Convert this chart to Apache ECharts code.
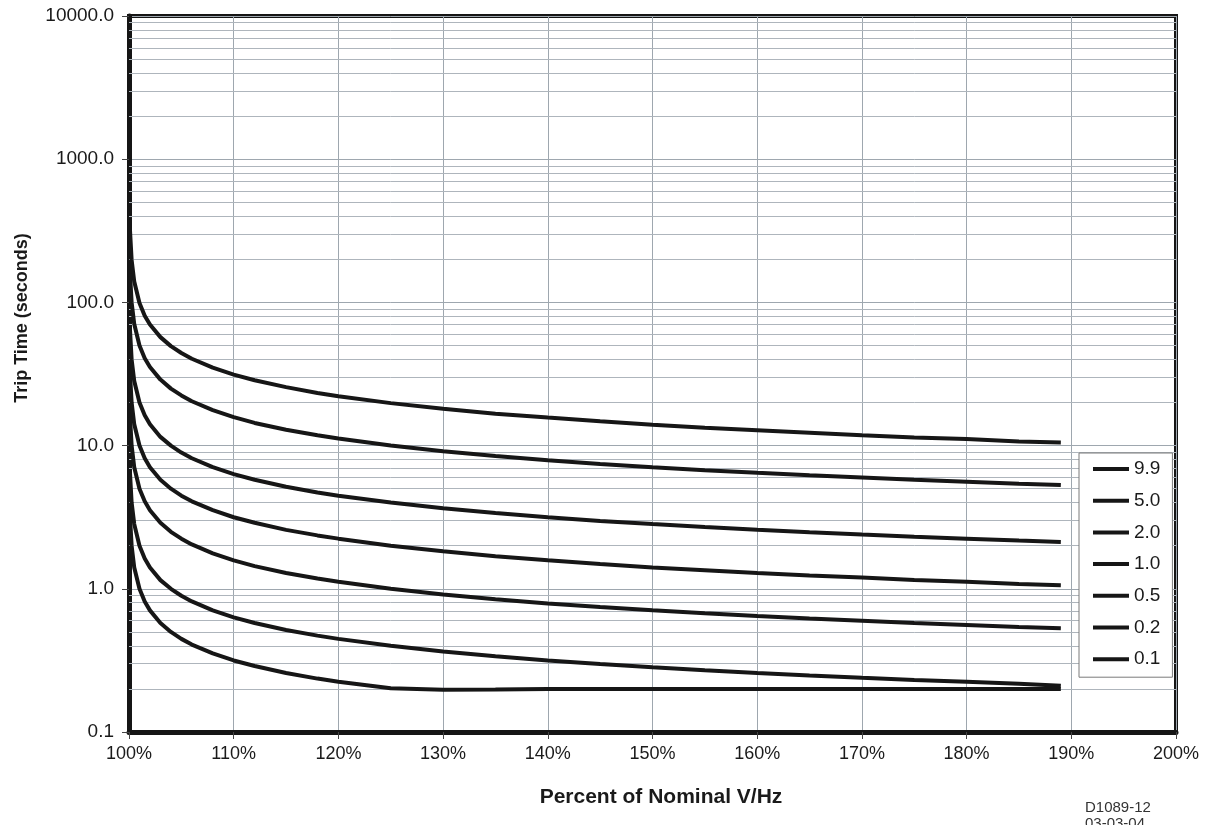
<!DOCTYPE html>
<html>
<head>
<meta charset="utf-8">
<script src="https://cdn.jsdelivr.net/npm/echarts@6/dist/echarts.min.js"></script>
<style>
html,body{margin:0;padding:0;background:#fff;}
#chart{width:1211px;height:825px;}
</style>
</head>
<body>
<div id="chart"></div>
<script>
// Percent of nominal V/Hz (x values)
const percent = [100.1, 100.25, 100.5, 101, 101.5, 102, 103, 104, 105, 106, 108, 110, 112, 115, 118, 120, 125, 130, 135, 140, 145, 150, 155, 160, 165, 170, 175, 180, 185, 189];

// Trip time (seconds) for each time-dial setting
const td99 = [313, 198, 140, 99, 80.8, 70, 57.2, 49.5, 44.3, 40.4, 35, 31.3, 28.6, 25.6, 23.3, 22.1, 19.8, 18.1, 16.7, 15.7, 14.8, 14.0, 13.3, 12.8, 12.3, 11.8, 11.4, 11.1, 10.7, 10.5];
const td50 = [158, 100, 70.7, 50, 40.8, 35.4, 28.9, 25, 22.4, 20.4, 17.7, 15.8, 14.4, 12.9, 11.8, 11.2, 10, 9.13, 8.45, 7.91, 7.45, 7.07, 6.74, 6.45, 6.20, 5.98, 5.77, 5.59, 5.42, 5.30];
const td20 = [63.2, 40, 28.3, 20, 16.3, 14.1, 11.5, 10, 8.94, 8.16, 7.07, 6.32, 5.77, 5.16, 4.71, 4.47, 4.0, 3.65, 3.38, 3.16, 2.98, 2.83, 2.70, 2.58, 2.48, 2.39, 2.31, 2.24, 2.17, 2.12];
const td10 = [31.6, 20, 14.1, 10, 8.16, 7.07, 5.77, 5.0, 4.47, 4.08, 3.54, 3.16, 2.89, 2.58, 2.36, 2.24, 2.0, 1.83, 1.69, 1.58, 1.49, 1.41, 1.35, 1.29, 1.24, 1.20, 1.15, 1.12, 1.08, 1.06];
const td05 = [15.8, 10, 7.07, 5.0, 4.08, 3.54, 2.89, 2.5, 2.24, 2.04, 1.77, 1.58, 1.44, 1.29, 1.18, 1.12, 1.0, 0.913, 0.845, 0.791, 0.745, 0.707, 0.674, 0.645, 0.620, 0.598, 0.577, 0.559, 0.542, 0.530];
const td02 = [6.32, 4.0, 2.83, 2.0, 1.63, 1.41, 1.15, 1.0, 0.894, 0.816, 0.707, 0.632, 0.577, 0.516, 0.471, 0.447, 0.40, 0.365, 0.338, 0.316, 0.298, 0.283, 0.270, 0.258, 0.248, 0.239, 0.231, 0.224, 0.217, 0.210];
const td01 = [3.16, 2.0, 1.41, 1.0, 0.816, 0.707, 0.577, 0.5, 0.447, 0.408, 0.354, 0.316, 0.289, 0.258, 0.236, 0.224, 0.202, 0.197, 0.198, 0.2, 0.2, 0.2, 0.2, 0.2, 0.2, 0.2, 0.2, 0.2, 0.2, 0.2];

const seriesNames = ['9.9', '5.0', '2.0', '1.0', '0.5', '0.2', '0.1'];
const seriesValues = [td99, td50, td20, td10, td05, td02, td01];

// Axis ticks
const xTickMin = 100, xTickMax = 200, xTickStep = 10;
const yDecades = [0.1, 1, 10, 100, 1000];
const yMinorMultipliers = [2, 3, 4, 5, 6, 7, 8, 9];

const xTitle = 'Percent of Nominal V/Hz';
const yTitle = 'Trip Time (seconds)';
const stampLines = ['D1089-12', '03-03-04'];

const minorLines = [];
yDecades.forEach(d => yMinorMultipliers.forEach(m => minorLines.push({ yAxis: +(d * m).toPrecision(3) })));

const FONT = '"Liberation Sans", Arial, sans-serif';

const series = seriesNames.map((name, i) => ({
  name: name,
  type: 'line',
  data: percent.map((p, j) => [p, seriesValues[i][j]]),
  showSymbol: false,
  symbol: 'none',
  smooth: false,
  z: 4,
  lineStyle: { color: '#161616', width: 4 },
  itemStyle: { color: '#161616' }
}));

series.push({
  name: 'minor',
  type: 'line',
  data: [[150, 1]],
  showSymbol: false,
  symbol: 'none',
  lineStyle: { opacity: 0 },
  z: 1,
  zlevel: 0,
  silent: true,
  markLine: {
    silent: true,
    symbol: 'none',
    animation: false,
    z: 1,
    label: { show: false },
    lineStyle: { color: '#aeb5bc', width: 1, type: 'solid' },
    data: minorLines
  }
});

const chart = echarts.init(document.getElementById('chart'), null, { renderer: 'canvas' });
chart.setOption({
  animation: false,
  backgroundColor: '#ffffff',
  grid: {
    left: 129, right: 35, top: 16, bottom: 93,
    show: true, borderColor: '#151515', borderWidth: 4, backgroundColor: 'transparent',
    containLabel: false
  },
  xAxis: {
    type: 'value',
    min: xTickMin, max: xTickMax, interval: xTickStep,
    axisLine: { show: true, lineStyle: { color: '#151515', width: 5 } },
    axisTick: { show: true, length: 7, lineStyle: { color: '#444', width: 1 } },
    axisLabel: { formatter: '{value}%', fontFamily: FONT, fontSize: 18, color: '#1a1a1a', margin: 13 },
    splitLine: { show: true, lineStyle: { color: '#9ea7af', width: 1 } }
  },
  yAxis: {
    type: 'log',
    logBase: 10,
    min: 0.1, max: 10000,
    axisLine: { show: true, lineStyle: { color: '#151515', width: 5 } },
    axisTick: { show: true, length: 7, lineStyle: { color: '#444', width: 1 } },
    axisLabel: {
      formatter: v => Number(v).toFixed(1),
      fontFamily: FONT, fontSize: 19, color: '#1a1a1a', margin: 15
    },
    splitLine: { show: true, lineStyle: { color: '#9ea7af', width: 1 } },
    minorTick: { show: false },
    minorSplitLine: { show: false }
  },
  legend: {
    data: seriesNames,
    orient: 'vertical',
    left: 1079,
    top: 453,
    width: 95,
    z: 50,
    zlevel: 0,
    padding: [6, 12, 8, 14],
    itemWidth: 36,
    itemHeight: 4,
    itemGap: 11.7,
    icon: 'rect',
    itemStyle: { color: '#161616', borderWidth: 0 },
    backgroundColor: '#ffffff',
    borderColor: '#7a7a7a',
    borderWidth: 1,
    borderRadius: 0,
    textStyle: { fontFamily: FONT, fontSize: 19, color: '#1a1a1a', lineHeight: 20 },
    selectedMode: false
  },
  graphic: [
    { type: 'text', x: 22, y: 318, rotation: Math.PI / 2,
      style: { text: yTitle, font: 'bold 18px "Liberation Sans", Arial, sans-serif', fill: '#1a1a1a', align: 'center', verticalAlign: 'middle' } },
    { type: 'text', x: 661, y: 797,
      style: { text: xTitle, font: 'bold 21px "Liberation Sans", Arial, sans-serif', fill: '#1a1a1a', align: 'center', verticalAlign: 'middle' } },
    { type: 'text', x: 1085, y: 800, style: { text: stampLines[0], font: '15px "Liberation Sans", Arial, sans-serif', fill: '#333' } },
    { type: 'text', x: 1085, y: 816, style: { text: stampLines[1], font: '15px "Liberation Sans", Arial, sans-serif', fill: '#333' } }
  ],
  series: series
});
</script>
</body>
</html>
